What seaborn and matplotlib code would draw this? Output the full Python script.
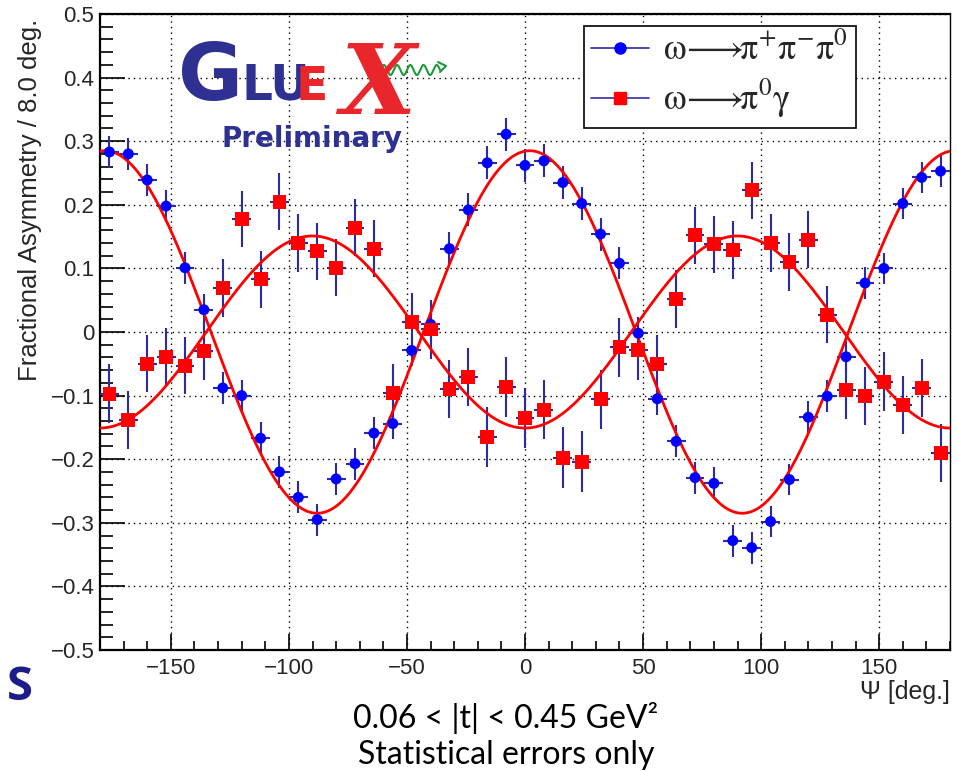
import numpy as np
import pandas as pd
import matplotlib
matplotlib.use("Agg")
import matplotlib.pyplot as plt
from matplotlib.ticker import MultipleLocator, FuncFormatter
from matplotlib.lines import Line2D
import seaborn as sns

# ---- data: fractional asymmetry per 8-degree bin of Psi ----
psi_bins = [-176, -168, -160, -152, -144, -136, -128, -120, -112, -104, -96, -88,
            -80, -72, -64, -56, -48, -40, -32, -24, -16, -8, 0, 8, 16, 24, 32, 40,
            48, 56, 64, 72, 80, 88, 96, 104, 112, 120, 128, 136, 144, 152, 160, 168, 176]

asym_3pi = [0.283, 0.280, 0.239, 0.198, 0.101, 0.035, -0.088, -0.100, -0.167, -0.220,
            -0.260, -0.295, -0.231, -0.207, -0.159, -0.144, -0.029, 0.012, 0.131, 0.192,
            0.266, 0.311, 0.262, 0.269, 0.235, 0.202, 0.154, 0.108, -0.002, -0.105,
            -0.172, -0.229, -0.238, -0.328, -0.339, -0.298, -0.232, -0.134, -0.101,
            -0.039, 0.077, 0.100, 0.202, 0.243, 0.253]
err_3pi = [0.025, 0.025, 0.025, 0.025, 0.025, 0.025, 0.025, 0.025, 0.025, 0.025,
           0.025, 0.025, 0.025, 0.025, 0.025, 0.025, 0.025, 0.026, 0.026, 0.026,
           0.026, 0.026, 0.026, 0.026, 0.026, 0.026, 0.026, 0.025, 0.025, 0.025,
           0.025, 0.025, 0.025, 0.025, 0.025, 0.025, 0.025, 0.025, 0.025,
           0.025, 0.025, 0.025, 0.025, 0.025, 0.025]

asym_pi0g = [-0.097, -0.138, -0.050, -0.039, -0.053, -0.030, 0.069, 0.178, 0.083, 0.205,
             0.140, 0.127, 0.101, 0.164, 0.131, -0.096, 0.016, 0.004, -0.090, -0.071,
             -0.165, -0.086, -0.135, -0.122, -0.198, -0.204, -0.106, -0.024, -0.029,
             -0.050, 0.052, 0.152, 0.138, 0.129, 0.223, 0.140, 0.110, 0.145, 0.027,
             -0.091, -0.101, -0.078, -0.115, -0.088, -0.190]
err_pi0g = [0.046, 0.046, 0.045, 0.045, 0.045, 0.045, 0.045, 0.044, 0.045, 0.045,
            0.045, 0.045, 0.045, 0.045, 0.045, 0.045, 0.046, 0.046, 0.046, 0.046,
            0.047, 0.047, 0.047, 0.047, 0.048, 0.048, 0.047, 0.046, 0.046, 0.046,
            0.045, 0.045, 0.045, 0.045, 0.045, 0.045, 0.045, 0.045, 0.045,
            0.046, 0.046, 0.046, 0.046, 0.046, 0.046]

bin_half_width = 4.0

# fit results: A*cos(2*(Psi - phi0))
fit_3pi_amp, fit_3pi_phase = 0.285, 2.0
fit_pi0g_amp, fit_pi0g_phase = -0.151, 0.0

df = pd.DataFrame({
    "psi": psi_bins * 2,
    "asym": asym_3pi + asym_pi0g,
    "err": err_3pi + err_pi0g,
    "channel": ["3pi"] * len(psi_bins) + ["pi0g"] * len(psi_bins),
})

psi_fine = np.linspace(-180, 180, 721)
fit_df = pd.DataFrame({
    "psi": np.concatenate([psi_fine, psi_fine]),
    "asym": np.concatenate([
        fit_3pi_amp * np.cos(np.radians(2 * (psi_fine - fit_3pi_phase))),
        fit_pi0g_amp * np.cos(np.radians(2 * (psi_fine - fit_pi0g_phase))),
    ]),
    "channel": ["3pi"] * len(psi_fine) + ["pi0g"] * len(psi_fine),
})

# ---- figure ----
sns.set_theme(style="white")
plt.rcParams["font.family"] = ["Liberation Sans", "DejaVu Sans"]
plt.rcParams["mathtext.fontset"] = "stix"

W, H = 957, 771
fig = plt.figure(figsize=(W / 100, H / 100), dpi=100)
fig.patch.set_facecolor("white")
ax = fig.add_axes([100 / W, 1 - 650 / H, 850 / W, 636 / H])
ax.set_facecolor("white")

err_col = "#2b2ba6"
blue = "#0000ff"
red = "#ff0000"

for ch in ["3pi", "pi0g"]:
    d = df[df.channel == ch]
    ax.errorbar(d.psi, d.asym, yerr=d.err, xerr=bin_half_width, fmt="none",
                ecolor=err_col, elinewidth=1.5, capsize=0, zorder=3)

sns.lineplot(data=fit_df, x="psi", y="asym", hue="channel", units="channel",
             estimator=None, palette={"3pi": red, "pi0g": red}, linewidth=2.0,
             legend=False, ax=ax, zorder=4)

sns.scatterplot(data=df[df.channel == "3pi"], x="psi", y="asym", marker="o",
                s=62, color=blue, edgecolor="none", legend=False, ax=ax, zorder=5)
sns.scatterplot(data=df[df.channel == "pi0g"], x="psi", y="asym", marker="s",
                s=100, color=red, edgecolor="none", legend=False, ax=ax, zorder=6)

ax.set_xlim(-180, 180)
ax.set_ylim(-0.5, 0.5)
ax.xaxis.set_major_locator(MultipleLocator(50))
ax.xaxis.set_minor_locator(MultipleLocator(10))
ax.yaxis.set_major_locator(MultipleLocator(0.1))
ax.yaxis.set_minor_locator(MultipleLocator(0.02))


def fmt_y(v, pos):
    if abs(v) < 1e-9:
        return "0"
    return f"{v:.1f}".replace("-", "\u2212")


def fmt_x(v, pos):
    return f"{v:.0f}".replace("-", "\u2212")


ax.yaxis.set_major_formatter(FuncFormatter(fmt_y))
ax.xaxis.set_major_formatter(FuncFormatter(fmt_x))
ax.tick_params(axis="both", which="both", direction="in", top=False, right=False,
               left=True, bottom=True, color="black", labelsize=16, width=1.2)
ax.tick_params(axis="y", which="major", length=18, pad=4)
ax.tick_params(axis="y", which="minor", length=9)
ax.tick_params(axis="x", which="major", length=11.5, pad=6)
ax.tick_params(axis="x", which="minor", length=6.5)
ax.grid(True, which="major", color="black", linestyle=(0, (1, 3)), linewidth=1.0)
ax.set_axisbelow(True)
for side in ["left", "bottom", "top"]:
    ax.spines[side].set_linewidth(1.6)
    ax.spines[side].set_color("black")
ax.spines["right"].set_linewidth(1.0)
ax.spines["right"].set_color("black")
ax.set_xlabel("")
ax.set_ylabel("")

# axis titles
fig.text(30 / W, 1 - 19 / H, "Fractional Asymmetry / 8.0 deg.", rotation=90,
         ha="center", va="top", fontsize=18.5)
fig.text(950 / W, 1 - 692 / H, "\u03a8 [deg.]", ha="right", va="center", fontsize=18)

# legend
handles = [
    Line2D([], [], color=err_col, lw=1.2, marker="o", markersize=8,
           markerfacecolor=blue, markeredgecolor=blue),
    Line2D([], [], color=err_col, lw=1.2, marker="s", markersize=9,
           markerfacecolor=red, markeredgecolor=red),
]
labels = [r"$\mathrm{ω\!\longrightarrow\!\!π^{+}π^{-}π^{0}}$",
          r"$\mathrm{ω\!\longrightarrow\!\!π^{0}γ}$"]
leg = ax.legend(handles, labels, loc="upper left",
                bbox_to_anchor=((584 - 100) / 850, 1 - (26 - 14) / 636),
                frameon=True, fancybox=False, edgecolor="black", framealpha=1,
                fontsize=26, handlelength=1.6, handletextpad=0.4,
                borderpad=0.2, labelspacing=0.25, borderaxespad=0)
leg.get_frame().set_linewidth(1.2)
leg.set_zorder(10)

# GlueX logo
navy = "#2e3192"
logo_red = "#e8262b"
fig.text(178 / W, 1 - 100 / H, "G", color=navy, fontsize=57, fontweight="bold",
         family="DejaVu Sans", ha="left", va="baseline")
fig.text(241 / W, 1 - 100 / H, "LU", color=navy, fontsize=35, fontweight="bold",
         family="DejaVu Sans Condensed", ha="left", va="baseline")
fig.text(296 / W, 1 - 100 / H, "E", color=logo_red, fontsize=34, fontweight="bold",
         family="DejaVu Sans Condensed", ha="left", va="baseline")
fig.text(340 / W, 1 - 114 / H, "X", color=logo_red, fontsize=70, fontweight="bold",
         fontstyle="italic", family="DejaVu Serif", ha="left", va="baseline")
wx = np.linspace(374, 440, 300)
wy = 70 + 5 * np.sin((wx - 374) / 66 * 2 * np.pi * 5)
fig.add_artist(Line2D(wx / W, 1 - wy / H, color="#1a9a3a", lw=1.5,
                      transform=fig.transFigure))
fig.add_artist(Line2D([438 / W, 446 / W, 440 / W], [1 - 62 / H, 1 - 66 / H, 1 - 72 / H],
                      color="#1a9a3a", lw=1.5, transform=fig.transFigure))
fig.text(222 / W, 1 - 147 / H, "Preliminary", color=navy, fontsize=20,
         fontweight="bold", family="DejaVu Sans", ha="left", va="baseline")

# annotations below the axes
fig.text(20 / W, 1 - 688 / H, "S", color="#1c1c8a", fontsize=34, fontweight="bold",
         family="Open Sans", ha="center", va="center")
fig.text(506 / W, 1 - 718 / H, "0.06 < |t| < 0.45 GeV\u00b2", ha="center", va="center",
         fontsize=23, family="Lato", color="black")
fig.text(506 / W, 1 - 755 / H, "Statistical errors only", ha="center", va="center",
         fontsize=23, family="Lato", color="black")

fig.savefig("out.png", dpi=100, facecolor="white")
